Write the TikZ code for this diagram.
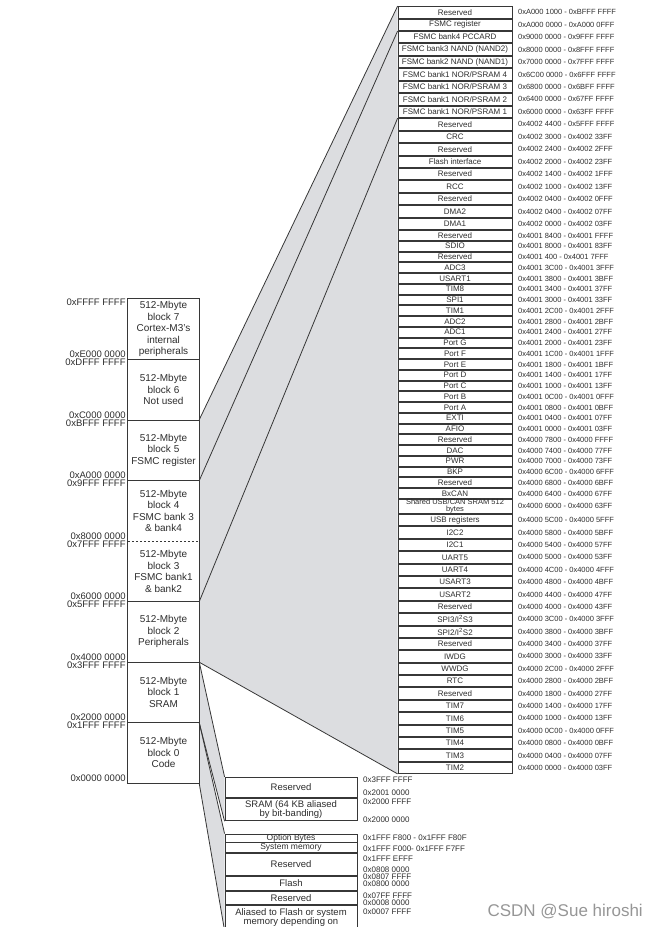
\documentclass[tikz,border=0pt]{standalone}
\usepackage{fontspec}
\setmainfont{Liberation Sans}
\usepackage{tikz}
\usetikzlibrary{positioning, backgrounds}
\definecolor{linegray}{RGB}{55, 55, 55}
\definecolor{textgray}{RGB}{45, 45, 45}
\definecolor{wedgegray}{RGB}{220, 221, 224}
\definecolor{markgray}{RGB}{150, 150, 150}

\begin{document}
\begin{tikzpicture}[
    x=1pt, y=-1pt,
    every node/.style={text=textgray},
    block/.style={rectangle, minimum width=71pt, minimum height=60.5pt, inner sep=0pt, align=center, font=\fontsize{10}{11.5}\selectfont},
    blockframe/.style={draw=linegray, line width=0.9pt},
    addrleft/.style={inner sep=0pt, font=\fontsize{9.5}{10}\selectfont},
    row/.style={rectangle, draw=linegray, line width=0.8pt, minimum width=114pt, inner sep=0pt, font=\fontsize{8}{8}\selectfont},
    addr/.style={inner sep=0pt, font=\fontsize{7.5}{8}\selectfont},
    lowbox/.style={rectangle, draw=linegray, line width=0.9pt, minimum width=132pt, inner sep=0pt, align=center, font=\fontsize{9.5}{9}\selectfont},
    lowaddr/.style={inner sep=0pt, anchor=west, font=\fontsize{8}{8}\selectfont},
    wedge/.style={fill=wedgegray},
    link/.style={draw=linegray, line width=0.8pt}
]
\useasboundingbox (0, 0) rectangle (658, 927);
\node[block] (blk7) at (163.5, 329.25) {512-Mbyte\\block 7\\Cortex-M3's\\internal\\peripherals};
\node[block] (blk6) at (163.5, 389.75) {512-Mbyte\\block 6\\Not used};
\node[block] (blk5) at (163.5, 450.25) {512-Mbyte\\block 5\\FSMC register};
\node[block] (blk4) at (163.5, 510.75) {512-Mbyte\\block 4\\FSMC bank 3\\\& bank4};
\node[block] (blk3) at (163.5, 571.25) {512-Mbyte\\block 3\\FSMC bank1\\\& bank2};
\node[block] (blk2) at (163.5, 631.75) {512-Mbyte\\block 2\\Peripherals};
\node[block] (blk1) at (163.5, 692.25) {512-Mbyte\\block 1\\SRAM};
\node[block] (blk0) at (163.5, 752.75) {512-Mbyte\\block 0\\Code};
\draw[blockframe] (blk7.north west) rectangle (blk0.south east);
\foreach \k in {7,6,5,3,2,1}
    \draw[blockframe] (blk\k.south west) -- (blk\k.south east);
\draw[blockframe, dash pattern=on 2pt off 2pt] (blk4.south west) -- (blk4.south east);
\node[addrleft, anchor=north east] (lo7) at ([xshift=-2pt]blk7.north west) {0xFFFF FFFF};
\foreach \up/\dn/\hi/\lo in {7/6/E000 0000/DFFF FFFF, 6/5/C000 0000/BFFF FFFF, 5/4/A000 0000/9FFF FFFF, 4/3/8000 0000/7FFF FFFF, 3/2/6000 0000/5FFF FFFF, 2/1/4000 0000/3FFF FFFF, 1/0/2000 0000/1FFF FFFF} {
    \node[addrleft, anchor=south east] (hi\up) at ([xshift=-2pt, yshift=1.5pt]blk\up.south west) {0x\hi};
    \node[addrleft, anchor=north east] (lo\dn) at ([xshift=-2pt, yshift=0.5pt]blk\dn.north west) {0x\lo};
}
\node[addrleft, anchor=south east] (hi0) at ([xshift=-2pt, yshift=1.5pt]blk0.south west) {0x0000 0000};

\foreach \name/\addrtext [count=\i from 1] in {Reserved/0xA000 1000 - 0xBFFF FFFF, FSMC register/0xA000 0000 - 0xA000 0FFF, FSMC bank4 PCCARD/0x9000 0000 - 0x9FFF FFFF, FSMC bank3 NAND (NAND2)/0x8000 0000 - 0x8FFF FFFF, FSMC bank2 NAND (NAND1)/0x7000 0000 - 0x7FFF FFFF, {FSMC bank1 NOR/PSRAM 4}/0x6C00 0000 - 0x6FFF FFFF, {FSMC bank1 NOR/PSRAM 3}/0x6800 0000 - 0x6BFF FFFF, {FSMC bank1 NOR/PSRAM 2}/0x6400 0000 - 0x67FF FFFF, {FSMC bank1 NOR/PSRAM 1}/0x6000 0000 - 0x63FF FFFF, Reserved/0x4002 4400 - 0x5FFF FFFF, CRC/0x4002 3000 - 0x4002 33FF, Reserved/0x4002 2400 - 0x4002 2FFF, Flash interface/0x4002 2000 - 0x4002 23FF, Reserved/0x4002 1400 - 0x4002 1FFF, RCC/0x4002 1000 - 0x4002 13FF, Reserved/0x4002 0400 - 0x4002 0FFF, DMA2/0x4002 0400 - 0x4002 07FF, DMA1/0x4002 0000 - 0x4002 03FF} {
    \node[row, minimum height=11.45pt] (r\i) at (455, {6+12.45*(\i-0.5)}) {\name};
    \node[addr, right=5.5pt of r\i] (a\i) {\addrtext};
}
\foreach \name/\addrtext [count=\i from 19] in {Reserved/0x4001 8400 - 0x4001 FFFF, SDIO/0x4001 8000 - 0x4001 83FF, Reserved/0x4001 400 - 0x4001 7FFF, ADC3/0x4001 3C00 - 0x4001 3FFF, USART1/0x4001 3800 - 0x4001 3BFF, TIM8/0x4001 3400 - 0x4001 37FF, SPI1/0x4001 3000 - 0x4001 33FF, TIM1/0x4001 2C00 - 0x4001 2FFF, ADC2/0x4001 2800 - 0x4001 2BFF, ADC1/0x4001 2400 - 0x4001 27FF, Port G/0x4001 2000 - 0x4001 23FF, Port F/0x4001 1C00 - 0x4001 1FFF, Port E/0x4001 1800 - 0x4001 1BFF, Port D/0x4001 1400 - 0x4001 17FF, Port C/0x4001 1000 - 0x4001 13FF, Port B/0x4001 0C00 - 0x4001 0FFF, Port A/0x4001 0800 - 0x4001 0BFF, EXTI/0x4001 0400 - 0x4001 07FF, AFIO/0x4001 0000 - 0x4001 03FF, Reserved/0x4000 7800 - 0x4000 FFFF, DAC/0x4000 7400 - 0x4000 77FF, PWR/0x4000 7000 - 0x4000 73FF, BKP/0x4000 6C00 - 0x4000 6FFF, Reserved/0x4000 6800 - 0x4000 6BFF, BxCAN/0x4000 6400 - 0x4000 67FF} {
    \node[row, minimum height=9.75pt] (r\i) at (455, {230.1+10.75*(\i-18.5)}) {\name};
    \node[addr, right=5.5pt of r\i] (a\i) {\addrtext};
}
\node[row, minimum height=14pt, align=center, font=\fontsize{7.5}{6.8}\selectfont] (r44) at (455, 506.4) {Shared USB/CAN SRAM 512\\bytes};
\node[addr, right=5.5pt of r44] (a44) {0x4000 6000 - 0x4000 63FF};
\foreach \name/\addrtext [count=\i from 45] in {USB registers/0x4000 5C00 - 0x4000 5FFF, I2C2/0x4000 5800 - 0x4000 5BFF, I2C1/0x4000 5400 - 0x4000 57FF, UART5/0x4000 5000 - 0x4000 53FF, UART4/0x4000 4C00 - 0x4000 4FFF, USART3/0x4000 4800 - 0x4000 4BFF, USART2/0x4000 4400 - 0x4000 47FF, Reserved/0x4000 4000 - 0x4000 43FF, {SPI3/I\textsuperscript{2}S3}/0x4000 3C00 - 0x4000 3FFF, {SPI2/I\textsuperscript{2}S2}/0x4000 3800 - 0x4000 3BFF, Reserved/0x4000 3400 - 0x4000 37FF, IWDG/0x4000 3000 - 0x4000 33FF, WWDG/0x4000 2C00 - 0x4000 2FFF, RTC/0x4000 2800 - 0x4000 2BFF, Reserved/0x4000 1800 - 0x4000 27FF, TIM7/0x4000 1400 - 0x4000 17FF, TIM6/0x4000 1000 - 0x4000 13FF, TIM5/0x4000 0C00 - 0x4000 0FFF, TIM4/0x4000 0800 - 0x4000 0BFF, TIM3/0x4000 0400 - 0x4000 07FF, TIM2/0x4000 0000 - 0x4000 03FF} {
    \node[row, minimum height=11.38pt] (r\i) at (455, {514+12.38*(\i-44.5)}) {\name};
    \node[addr, right=5.5pt of r\i] (a\i) {\addrtext};
}

\node[lowbox, minimum height=20.5pt] (sres) at (291, 787.5) {Reserved};
\node[lowbox, minimum height=22.5pt] (sram) at (291, 809.5) {SRAM (64 KB aliased\\by bit-banding)};
\node[lowbox, minimum height=8pt, font=\fontsize{8.5}{8}\selectfont] (opt) at (291, 838) {Option Bytes};
\node[lowbox, minimum height=10.5pt, font=\fontsize{8.5}{8}\selectfont] (sysm) at (291, 847.5) {System memory};
\node[lowbox, minimum height=22.5pt] (res2) at (291, 864.5) {Reserved};
\node[lowbox, minimum height=14.5pt] (flash) at (291, 883.5) {Flash};
\node[lowbox, minimum height=13.5pt] (res3) at (291, 898) {Reserved};
\node[lowbox, minimum height=25pt] (alias) at (291, 917.5) {Aliased to Flash or system\\memory depending on};
\foreach \y/\t [count=\j] in {780/0x3FFF FFFF, 793/0x2001 0000, 802/0x2000 FFFF, 820/0x2000 0000, 838/0x1FFF F800 - 0x1FFF F80F, 849/0x1FFF F000- 0x1FFF F7FF, 859/0x1FFF EFFF, 870/0x0808 0000, 877/0x0807 FFFF, 884/0x0800 0000, 896/0x07FF FFFF, 903/0x0008 0000, 912/0x0007 FFFF}
    \node[lowaddr] (b\j) at (363, \y) {\t};

\draw[link] (blk5.north east) -- (r1.north west);
\draw[link] (blk5.south east) -- (r3.north west);
\draw[link] (blk3.south east) -- (r10.north west);
\draw[link] (blk2.south east) -- (r65.south west);
\draw[link] (blk1.north east) -- (sres.north west);
\draw[link] (blk1.south east) -- (sram.south west);
\draw[link] (blk0.north east) -- (opt.north west);
\draw[link] (blk0.south east) -- (alias.south west);
\begin{scope}[on background layer]
    \fill[wedge] (blk5.north east) -- (r1.north west) -- (r65.south west) -- (blk2.south east) -- cycle;
    \fill[wedge] (blk1.north east) -- (sres.north west) -- (sram.south west) -- (blk1.south east) -- cycle;
    \fill[wedge] (blk0.north east) -- (opt.north west) -- (alias.south west) -- (blk0.south east) -- cycle;
\end{scope}
\node[anchor=south east, inner sep=0pt, text=markgray, font=\fontsize{17}{17}\selectfont] (mark) at (643, 919) {CSDN @Sue hiroshi};
\end{tikzpicture}
\end{document}
